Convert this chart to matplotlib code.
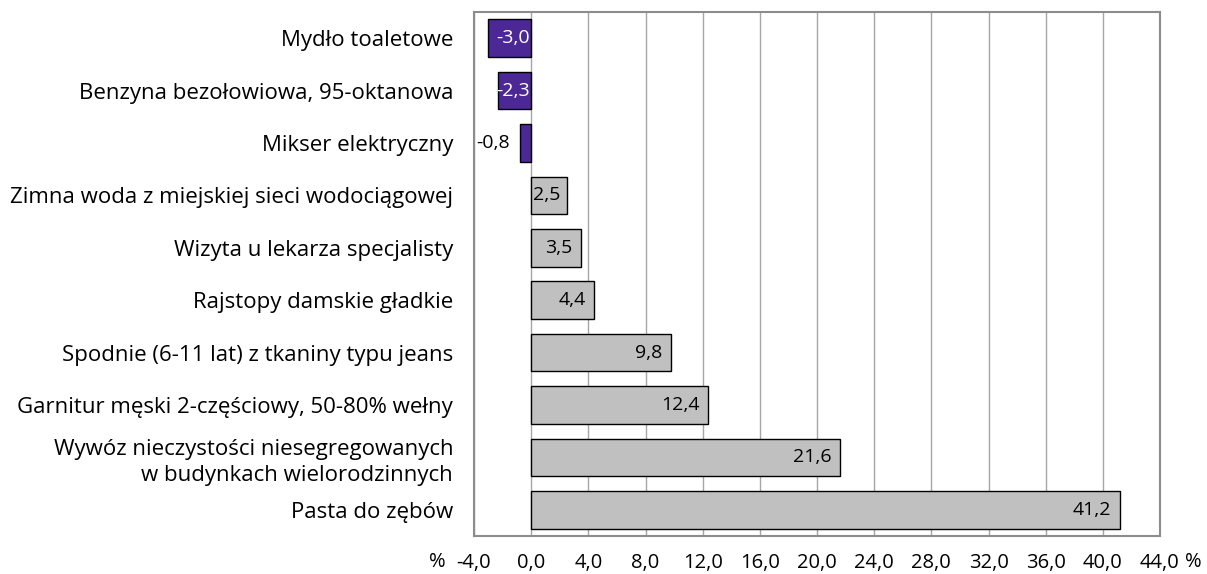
import matplotlib.pyplot as plt
from matplotlib.ticker import FixedLocator, FuncFormatter

plt.rcParams['font.family'] = ['Open Sans', 'DejaVu Sans']

# dane
kategorie = [
    'Mydło toaletowe',
    'Benzyna bezołowiowa, 95-oktanowa',
    'Mikser elektryczny',
    'Zimna woda z miejskiej sieci wodociągowej',
    'Wizyta u lekarza specjalisty',
    'Rajstopy damskie gładkie',
    'Spodnie (6-11 lat) z tkaniny typu jeans',
    'Garnitur męski 2-częściowy, 50-80% wełny',
    'Wywóz nieczystości niesegregowanych\nw budynkach wielorodzinnych',
    'Pasta do zębów',
]
zmiany = [-3.0, -2.3, -0.8, 2.5, 3.5, 4.4, 9.8, 12.4, 21.6, 41.2]
ticki = [-4, 0, 4, 8, 12, 16, 20, 24, 28, 32, 36, 40, 44]

fioletowy = '#4B2896'
szary = '#C0C0C0'

fig = plt.figure(figsize=(12.07, 5.74), dpi=100)
ax = fig.add_axes([474 / 1207, 1 - 536 / 574, (1160 - 474) / 1207, (536 - 12) / 574])

pozycje = list(range(len(kategorie)))
kolory = [fioletowy if v < 0 else szary for v in zmiany]
ax.barh(pozycje, zmiany, height=0.72, color=kolory, edgecolor='black', linewidth=1, zorder=3)

ax.set_xlim(-4, 44)
ax.set_ylim(len(kategorie) - 0.5, -0.5)

ax.xaxis.set_major_locator(FixedLocator(ticki))
ax.xaxis.set_major_formatter(FuncFormatter(lambda x, p: f'{x:.1f}'.replace('.', ',')))
ax.set_yticks(pozycje)
ax.set_yticklabels(kategorie, fontsize=16, linespacing=1.3)
ax.tick_params(axis='x', length=0, pad=12, labelsize=14.5)
ax.tick_params(axis='y', length=0, pad=15)

ax.grid(axis='x', color='#A6A6A6', linewidth=1, zorder=0)
for s in ax.spines.values():
    s.set_color('#8C8C8C')
    s.set_linewidth(1.5)

# etykiety wartości
for i, v in enumerate(zmiany):
    txt = f'{v:.1f}'.replace('.', ',')
    if v < 0:
        if v < -1.5:
            ax.text(-0.1, i, txt, ha='right', va='center', color='white', fontsize=14, zorder=4)
        else:
            ax.text(v - 0.7, i, txt, ha='right', va='center', color='black', fontsize=14, zorder=4)
    elif v < 3:
        ax.text(0.12, i, txt, ha='left', va='center', color='black', fontsize=14, zorder=4)
    else:
        ax.text(v - 0.6, i, txt, ha='right', va='center', color='black', fontsize=14, zorder=4)

# znaki procentu przy osi
ax.text(-6.0, -16 / 524, '%', transform=ax.get_xaxis_transform(), ha='right', va='top', fontsize=14.5)
ax.text(45.75, -16 / 524, '%', transform=ax.get_xaxis_transform(), ha='left', va='top', fontsize=14.5)

fig.savefig('out.png', dpi=100)
